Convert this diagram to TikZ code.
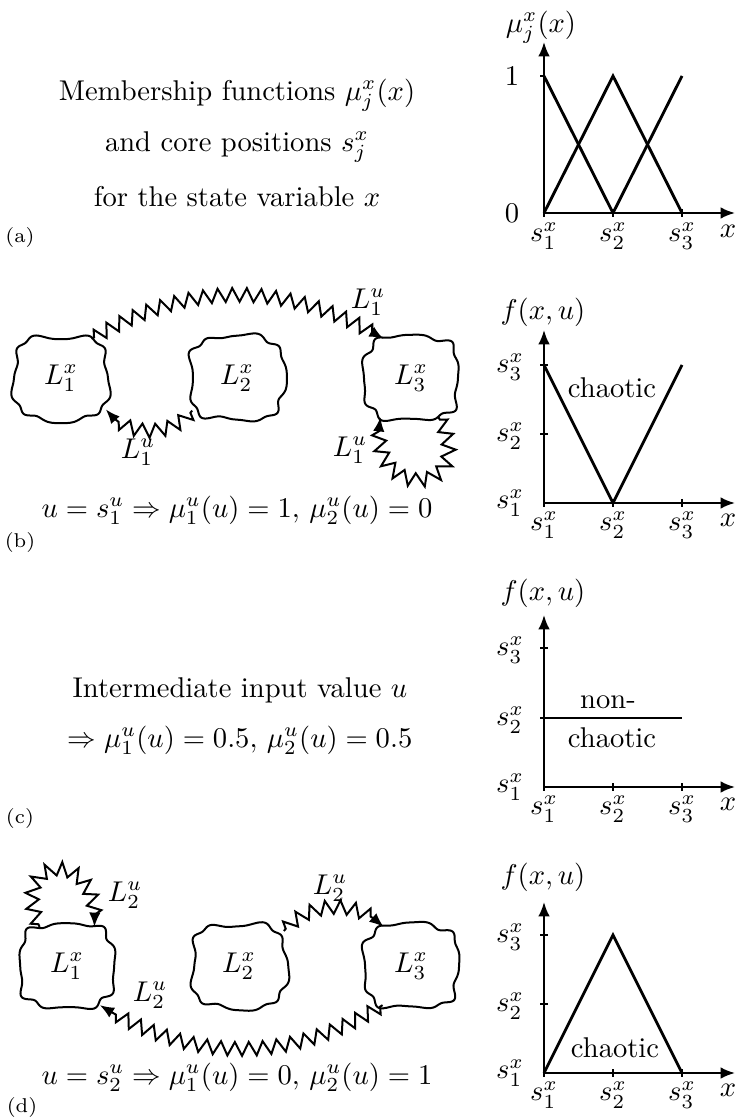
\documentclass[tikz,border=0pt]{standalone}
\usepackage{amsmath}
\usepackage{tikz}
\usetikzlibrary{arrows.meta, decorations.pathmorphing}

\tikzset{
  blob/.style={minimum width=31pt, minimum height=27pt},
  zz/.style={line width=0.7pt, -{Latex[length=5pt,width=4pt]}, decorate,
    decoration={zigzag, amplitude=2.4pt, segment length=5pt,
      pre length=1pt, post length=4pt}},
  axis/.style={line width=0.7pt, -{Latex[length=5pt,width=4pt]}},
  tick/.style={line width=0.7pt},
  fn/.style={line width=1pt},
  tag/.style={font=\scriptsize},
}
% wavy squarish outline round a blob node (#2 = phase of the wiggle)
\newcommand{\blobline}[2]{%
  \draw[line width=0.7pt, shift={(#1.center)}]
    plot[smooth cycle, domain=1.25:358.75, samples=144, variable=\t]
    ({47*cos(\t)/abs(cos(\t))^0.4*(1+0.045*sin(9*\t+#2)+0.03*sin(5*\t+2*#2))},
     {42*sin(\t)/abs(sin(\t))^0.4*(1+0.045*sin(9*\t+#2)+0.03*sin(5*\t+2*#2))});}

\begin{document}
\begin{tikzpicture}[x=0.35pt, y=-0.35pt]
        \useasboundingbox (0,0) rectangle (739,1119);

        % (a) membership functions
        \node (ta1) at (237,95)  {Membership functions $\mu_j^x(x)$};
        \node (ta2) at (237,147) {and core positions $s_j^x$};
        \node (ta3) at (237,197) {for the state variable $x$};
        \node[tag] (tga) at (20,237) {(a)};

        \draw[axis] (544,213) -- (735,213);
        \draw[axis] (544,213) -- (544,42);
        \foreach \xx in {544,613,682} \draw[tick] (\xx,209) -- (\xx,217);
        \draw[tick] (540,76) -- (544,76);
        \draw[fn] (544,76) -- (613,213);
        \draw[fn] (544,213) -- (613,76) -- (682,213);
        \draw[fn] (613,213) -- (682,76);
        \node (mua) at (541,27) {$\mu_j^x(x)$};
        \node (ya1) at (512,76) {$1$};
        \node (ya0) at (512,213) {$0$};
        \node (sa1) at (544,236) {$s_1^x$};
        \node (sa2) at (613,236) {$s_2^x$};
        \node (sa3) at (682,236) {$s_3^x$};
        \node (xa) at (728,231) {$x$};

        % (b) u = s_1^u
        \node[blob] (L1b) at (61,378)  {$L_1^x$};
        \node[blob] (L2b) at (237,378) {$L_2^x$};
        \node[blob] (L3b) at (411,378) {$L_3^x$};
        \blobline{L1b}{0} \blobline{L2b}{70} \blobline{L3b}{140}
        \draw[zz] (L1b.52) to[bend left=31] (L3b.125);
        \draw[zz] (L2b.216) to[bend left=55] (L1b.-35);
        \draw[zz] (L3b.-55) to[out=-60, in=-100, looseness=4] (L3b.-128);
        \node (ub1) at (368,302) {$L_1^u$};
        \node (ub2) at (138,452) {$L_1^u$};
        \node (ub3) at (350,450) {$L_1^u$};
        \node (eqb) at (237,510) {$u=s_1^u \Rightarrow \mu_1^u(u)=1,\, \mu_2^u(u)=0$};
        \node[tag] (tgb) at (20,542) {(b)};

        \draw[axis] (544,503) -- (735,503);
        \draw[axis] (544,503) -- (544,330);
        \foreach \xx in {544,613,682} \draw[tick] (\xx,499) -- (\xx,507);
        \foreach \yy in {434,365} \draw[tick] (540,\yy) -- (548,\yy);
        \draw[fn] (544,365) -- (613,503) -- (682,365);
        \node (fb) at (543,312) {$f(x,u)$};
        \node (yb3) at (510,367) {$s_3^x$};
        \node (yb2) at (510,436) {$s_2^x$};
        \node (yb1) at (510,503) {$s_1^x$};
        \node (sb1) at (544,525) {$s_1^x$};
        \node (sb2) at (613,525) {$s_2^x$};
        \node (sb3) at (682,525) {$s_3^x$};
        \node (xb) at (728,520) {$x$};
        \node (chb) at (612,388) {chaotic};

        % (c) intermediate u
        \node (tc1) at (240,690) {Intermediate input value $u$};
        \node (tc2) at (240,740) {$\Rightarrow \mu_1^u(u)=0.5,\, \mu_2^u(u)=0.5$};
        \node[tag] (tgc) at (20,818) {(c)};

        \draw[axis] (544,787) -- (735,787);
        \draw[axis] (544,787) -- (544,615);
        \foreach \xx in {544,613,682} \draw[tick] (\xx,783) -- (\xx,791);
        \foreach \yy in {718,648} \draw[tick] (540,\yy) -- (548,\yy);
        \draw[fn] (544,718) -- (682,718);
        \node (fc) at (543,593) {$f(x,u)$};
        \node (yc3) at (510,650) {$s_3^x$};
        \node (yc2) at (510,720) {$s_2^x$};
        \node (yc1) at (510,787) {$s_1^x$};
        \node (sc1) at (544,809) {$s_1^x$};
        \node (sc2) at (613,809) {$s_2^x$};
        \node (sc3) at (682,809) {$s_3^x$};
        \node (xc) at (728,804) {$x$};
        \node (chc1) at (608,702) {non-};
        \node (chc2) at (612,738) {chaotic};

        % (d) u = s_2^u
        \node[blob] (L1d) at (67,966)  {$L_1^x$};
        \node[blob] (L2d) at (239,966) {$L_2^x$};
        \node[blob] (L3d) at (411,966) {$L_3^x$};
        \blobline{L1d}{200} \blobline{L2d}{30} \blobline{L3d}{110}
        \draw[zz] (L1d.125) to[out=115, in=85, looseness=3.8] (L1d.55);
        \draw[zz] (L2d.38) to[bend left=48] (L3d.125);
        \draw[zz] (L3d.-126) to[bend left=32] (L1d.-50);
        \node (ud1) at (125,895) {$L_2^u$};
        \node (ud2) at (330,888) {$L_2^u$};
        \node (ud3) at (150,995) {$L_2^u$};
        \node (eqd) at (237,1077) {$u=s_2^u \Rightarrow \mu_1^u(u)=0,\, \mu_2^u(u)=1$};
        \node[tag] (tgd) at (22,1107) {(d)};

        \draw[axis] (544,1073) -- (735,1073);
        \draw[axis] (544,1073) -- (544,902);
        \foreach \xx in {544,613,682} \draw[tick] (\xx,1069) -- (\xx,1077);
        \foreach \yy in {1004,935} \draw[tick] (540,\yy) -- (548,\yy);
        \draw[fn] (544,1073) -- (613,935) -- (682,1073);
        \node (fd) at (543,877) {$f(x,u)$};
        \node (yd3) at (510,937) {$s_3^x$};
        \node (yd2) at (510,1006) {$s_2^x$};
        \node (yd1) at (510,1073) {$s_1^x$};
        \node (sd1) at (544,1095) {$s_1^x$};
        \node (sd2) at (613,1095) {$s_2^x$};
        \node (sd3) at (682,1095) {$s_3^x$};
        \node (xd) at (728,1090) {$x$};
        \node (chd) at (615,1048) {chaotic};
      \end{tikzpicture}
\end{document}
